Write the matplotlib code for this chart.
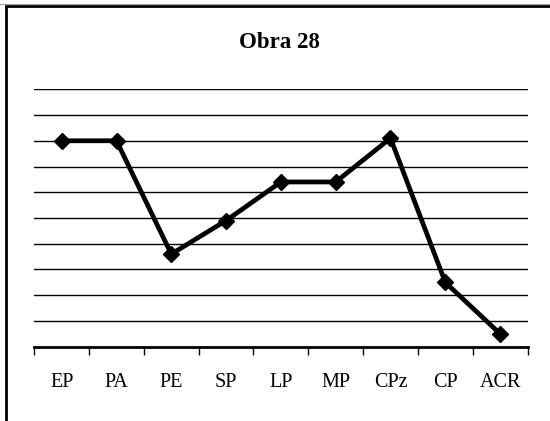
import numpy as np
import matplotlib.pyplot as plt
from matplotlib.patches import Rectangle
from matplotlib.lines import Line2D

# Dati del grafico
categorie = ['EP', 'PA', 'PE', 'SP', 'LP', 'MP', 'CPz', 'CP', 'ACR']
valori = [8.0, 8.0, 3.6, 4.9, 6.4, 6.4, 8.1, 2.5, 0.5]
titolo = 'Obra 28'

plt.rcParams['font.family'] = ['Liberation Serif', 'DejaVu Serif']

fig = plt.figure(figsize=(5.5, 4.21), dpi=100)
fig.patch.set_facecolor('white')

# Cornice del grafico (bordo sinistro e superiore)
fig.add_artist(Line2D([0, 1], [1 - 4.0 / 421, 1 - 4.0 / 421], transform=fig.transFigure,
                      color='#a0a0a0', lw=0.8))
fig.add_artist(Rectangle((6.0 / 550, -0.1), 1.2, 1 - 6.0 / 421 + 0.1, transform=fig.transFigure,
                         fill=False, edgecolor='black', lw=2.0))

ax = fig.add_axes([34.3 / 550, 1 - 346.7 / 421, (527.5 - 34.3) / 550, (346.7 - 89.3) / 421])

x = np.arange(len(categorie))
ax.plot(x, valori, color='black', lw=3.4, marker='D', markersize=8.5,
        markerfacecolor='black', markeredgecolor='black', zorder=3)

ax.set_xlim(-0.5, len(categorie) - 0.5)
ax.set_ylim(0, 10)

# Griglia orizzontale
for yv in range(1, 11):
    ax.axhline(yv, color='black', lw=1.0, zorder=1)

for lato in ['top', 'right', 'left']:
    ax.spines[lato].set_visible(False)
ax.spines['bottom'].set_linewidth(2.0)

ax.set_yticks([])
ax.set_xticks(x)
ax.set_xticklabels(categorie, fontsize=14.5)
ax.tick_params(axis='x', which='major', length=0, pad=19)
ax.set_xticks(np.arange(-0.5, len(categorie)), minor=True)
ax.tick_params(axis='x', which='minor', length=6, width=1.0, direction='out', color='black')

fig.text(279 / 550, 1 - 42 / 421, titolo, ha='center', va='center',
         fontsize=16.5, fontweight='bold')

plt.savefig('out.png', dpi=100)
plt.close()
